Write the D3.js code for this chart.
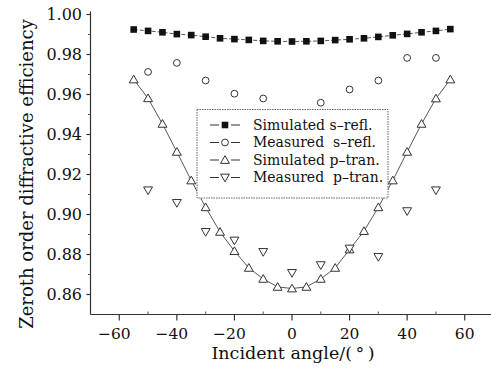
<!DOCTYPE html>
<html lang="en">
<head>
    <meta charset="UTF-8">
    <title>Zeroth order diffractive efficiency</title>
    <script src="https://d3js.org/d3.v7.min.js"></script>
    <style>
        body {
            margin: 0;
            padding: 0;
            background: #fff;
        }
        svg {
            display: block;
            font-family: 'DejaVu Serif', 'Liberation Serif', serif;
        }
        .tick-label {
            font-size: 15.5px;
            fill: #111;
        }
        .axis-title {
            font-size: 17px;
            fill: #111;
        }
        .legend-text {
            font-size: 14px;
            fill: #111;
        }
    </style>
</head>
<body>
    <svg width="491" height="369"></svg>

    <script>
        // angles
        const simAngles = [-55, -50, -45, -40, -35, -30, -25, -20, -15, -10, -5, 0,
                           5, 10, 15, 20, 25, 30, 35, 40, 45, 50, 55];
        const measSAngles = [-50, -40, -30, -20, -10, 10, 20, 30, 40, 50];
        const measPAngles = [-50, -40, -30, -20, -10, 0, 10, 20, 30, 40, 50];

        // series values
        const simS = [0.9925, 0.9918, 0.9911, 0.9902, 0.9897, 0.9889, 0.9881, 0.9877, 0.9873, 0.9868, 0.9866, 0.9865,
                      0.9866, 0.9868, 0.9872, 0.9876, 0.9881, 0.9888, 0.9896, 0.9903, 0.9911, 0.9918, 0.9927];
        const measS = [0.9713, 0.9758, 0.9670, 0.9604, 0.9580, 0.9559, 0.9625, 0.9670, 0.9783, 0.9783];
        const simP = [0.9675, 0.9581, 0.9453, 0.9313, 0.9170, 0.9036, 0.8913, 0.8817, 0.8733, 0.8678, 0.8638, 0.8630,
                      0.8638, 0.8678, 0.8733, 0.8825, 0.8917, 0.9036, 0.9170, 0.9313, 0.9453, 0.9580, 0.9675];
        const measP = [0.9121, 0.9058, 0.8913, 0.8870, 0.8813, 0.8708, 0.8747, 0.8830, 0.8788, 0.9017, 0.9121];

        // tick labels
        const xTicks = [-60, -40, -20, 0, 20, 40, 60];
        const xMinor = [-50, -30, -10, 10, 30, 50];
        const yTicks = [0.86, 0.88, 0.90, 0.92, 0.94, 0.96, 0.98, 1.00];
        const yMinor = [0.87, 0.89, 0.91, 0.93, 0.95, 0.97, 0.99];

        const legendLabels = ["Simulated s\u2013refl.", "Measured  s\u2013refl.", "Simulated p\u2013tran.", "Measured  p\u2013tran."];

        const svg = d3.select("svg");
        const ink = "#111";

        const x = d3.scaleLinear().domain([-70, 70]).range([90.5, 493.5]);
        const y = d3.scaleLinear().domain([0.85, 1.0]).range([314.5, 14.5]);

        // axes lines
        svg.append("line")
            .attr("x1", x(-70)).attr("x2", 491)
            .attr("y1", y(0.85)).attr("y2", y(0.85))
            .attr("stroke", "#333").attr("stroke-width", 1.2);
        svg.append("line")
            .attr("x1", x(-70)).attr("x2", x(-70))
            .attr("y1", y(0.85)).attr("y2", 11.5)
            .attr("stroke", "#333").attr("stroke-width", 1.2);

        // x ticks
        svg.selectAll(".xmaj")
            .data(xTicks)
            .enter()
            .append("line")
            .attr("x1", d => x(d)).attr("x2", d => x(d))
            .attr("y1", y(0.85)).attr("y2", y(0.85) + 6)
            .attr("stroke", "#333").attr("stroke-width", 1.2);
        svg.selectAll(".xmin")
            .data(xMinor)
            .enter()
            .append("line")
            .attr("x1", d => x(d)).attr("x2", d => x(d))
            .attr("y1", y(0.85)).attr("y2", y(0.85) - 3)
            .attr("stroke", "#555").attr("stroke-width", 1);
        svg.selectAll(".xlab")
            .data(xTicks)
            .enter()
            .append("text")
            .attr("class", "tick-label")
            .attr("x", d => x(d) + (d < 0 ? -5 : 0))
            .attr("y", 339)
            .attr("text-anchor", "middle")
            .text(d => d < 0 ? "\u2212" + Math.abs(d) : d);

        // y ticks
        svg.selectAll(".ymaj")
            .data(yTicks)
            .enter()
            .append("line")
            .attr("x1", x(-70) - 4).attr("x2", x(-70))
            .attr("y1", d => y(d)).attr("y2", d => y(d))
            .attr("stroke", "#333").attr("stroke-width", 1.2);
        svg.selectAll(".ymin")
            .data(yMinor)
            .enter()
            .append("line")
            .attr("x1", x(-70) - 2.5).attr("x2", x(-70))
            .attr("y1", d => y(d)).attr("y2", d => y(d))
            .attr("stroke", "#555").attr("stroke-width", 1);
        svg.selectAll(".ylab")
            .data(yTicks)
            .enter()
            .append("text")
            .attr("class", "tick-label")
            .style("font-size", "16px")
            .attr("x", 82)
            .attr("y", d => y(d))
            .attr("dy", "0.36em")
            .attr("text-anchor", "end")
            .text(d => d.toFixed(2));

        // axis titles
        svg.append("text")
            .attr("class", "axis-title")
            .style("font-size", "17.5px")
            .attr("x", 293)
            .attr("y", 359)
            .attr("text-anchor", "middle")
            .text("Incident angle/(\u2009\u00b0\u2009)");
        svg.append("text")
            .attr("class", "axis-title")
            .style("font-size", "18px")
            .attr("transform", "translate(33,174) rotate(-90)")
            .attr("text-anchor", "middle")
            .text("Zeroth order diffractive efficiency");

        // simulated p-tran line
        const lineP = d3.line().x((d, i) => x(simAngles[i])).y(d => y(d));
        svg.append("path")
            .datum(simP)
            .attr("d", lineP)
            .attr("fill", "none")
            .attr("stroke", "#444")
            .attr("stroke-width", 0.9);

        // simulated s-refl line (dashed)
        const lineS = d3.line().x((d, i) => x(simAngles[i])).y(d => y(d));
        svg.append("path")
            .datum(simS)
            .attr("d", lineS)
            .attr("fill", "none")
            .attr("stroke", "#444")
            .attr("stroke-width", 0.9)
            .attr("stroke-dasharray", "4,2");

        const triUp = d3.symbol().type(d3.symbolTriangle).size(34);

        function drawSquare(g, cx, cy) {
            g.append("rect")
                .attr("x", cx - 3.3).attr("y", cy - 3.3)
                .attr("width", 6.6).attr("height", 6.6)
                .attr("fill", ink);
        }
        function drawCircle(g, cx, cy) {
            g.append("circle")
                .attr("cx", cx).attr("cy", cy).attr("r", 3.4)
                .attr("fill", "#fff").attr("stroke", "#333").attr("stroke-width", 1);
        }
        function drawTri(g, cx, cy, down) {
            g.append("path")
                .attr("d", triUp)
                .attr("transform", `translate(${cx},${cy + (down ? -0.8 : 0.8)}) rotate(${down ? 180 : 0})`)
                .attr("fill", "#fff").attr("stroke", "#333").attr("stroke-width", 1);
        }

        const marks = svg.append("g");
        simAngles.forEach((a, i) => drawSquare(marks, x(a), y(simS[i])));
        measSAngles.forEach((a, i) => drawCircle(marks, x(a), y(measS[i])));
        simAngles.forEach((a, i) => drawTri(marks, x(a), y(simP[i]), false));
        measPAngles.forEach((a, i) => drawTri(marks, x(a), y(measP[i]), true));

        // legend
        const lg = svg.append("g");
        lg.append("rect")
            .attr("x", 197).attr("y", 109.5)
            .attr("width", 191).attr("height", 88.5)
            .attr("fill", "#fff")
            .attr("stroke", "#666")
            .attr("stroke-width", 1)
            .attr("stroke-dasharray", "1.5,1");

        const rowY = [125, 142.5, 160, 177.5];
        legendLabels.forEach((label, i) => {
            const cy = rowY[i];
            lg.append("line")
                .attr("x1", 210).attr("x2", 219)
                .attr("y1", cy).attr("y2", cy)
                .attr("stroke", "#333").attr("stroke-width", 1);
            lg.append("line")
                .attr("x1", 231).attr("x2", 240)
                .attr("y1", cy).attr("y2", cy)
                .attr("stroke", "#333").attr("stroke-width", 1);
            if (i === 0) drawSquare(lg, 225, cy);
            if (i === 1) drawCircle(lg, 225, cy);
            if (i === 2) drawTri(lg, 225, cy, false);
            if (i === 3) drawTri(lg, 225, cy, true);
            lg.append("text")
                .attr("class", "legend-text")
                .attr("x", 253)
                .attr("y", cy)
                .attr("dy", "0.35em")
                .attr("xml:space", "preserve")
                .style("white-space", "pre")
                .text(label);
        });
    </script>
</body>
</html>
